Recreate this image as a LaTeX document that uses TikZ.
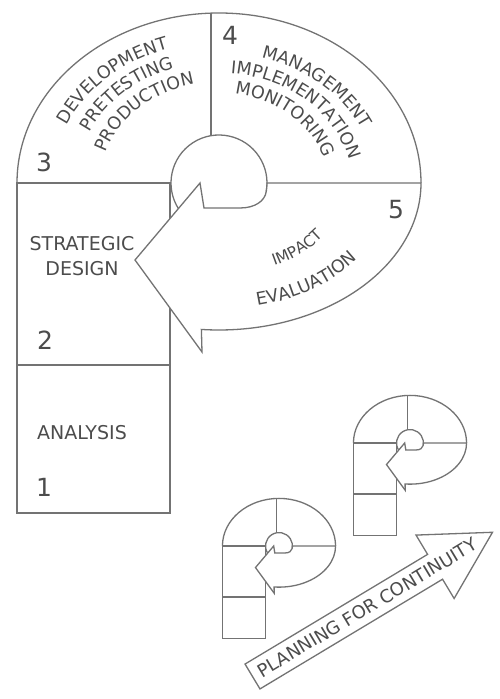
\documentclass[tikz,border=0pt]{standalone}
\usepackage{fontspec}
\setmainfont{DejaVu Sans}
\usetikzlibrary{decorations.text}

\definecolor{linegray}{gray}{0.45}
\definecolor{txtgray}{gray}{0.3}
\newcommand\arcfont{\fontsize{17.5}{20}\selectfont\color{txtgray}}
\newcommand\smallarcfont{\fontsize{15.5}{18}\selectfont\color{txtgray}}

\begin{document}
\begin{tikzpicture}[
  x=1pt, y=1pt,
  color=linegray,
  line width=1.3pt,
  num/.style={text=txtgray, font=\fontsize{25}{28}\selectfont},
  lbl/.style={text=txtgray, align=center, font=\fontsize{19}{25}\selectfont},
  arclbl/.style={decorate, decoration={text along path, text align=center, text={#1}}},
  pshape/.pic={
    % left column
    \draw (-202,0) rectangle (-49,-330);
    \draw (-202,-182) -- (-49,-182);
    % upper half
    \draw (-202,0) arc[start angle=180, end angle=0, x radius=202, y radius=170];
    \draw (-8,170) -- (-8,48);
    \draw (213:48) arc[start angle=213, end angle=-10, radius=48];
    % spiral arrow
    \draw[fill=white] (202,0) arc[start angle=0, end angle=-95, x radius=202, y radius=147]
      -- (-17,-169) -- (-84,-77) -- (-19,0) -- (-15,-25) -- (21,-25)
      .. controls (36,-25) and (46,-18) .. (-10:48)
      arc[start angle=-10, end angle=0, radius=48] -- cycle;
  }
]
\useasboundingbox (0,0) rectangle (500,699);

% big P
\pic (pbig) at (219,516) {pshape};

% small P's
\pic[scale=0.28] (psmalla) at (279,153) {pshape};
\pic[scale=0.28] (psmallb) at (410,256) {pshape};

% numbers
\node[num] (n1) at (44,212) {1};
\node[num] (n2) at (45,359) {2};
\node[num] (n3) at (44,537) {3};
\node[num] (n4) at (230,664) {4};
\node[num] (n5) at (396,489) {5};

% column labels
\node[lbl] (design) at (82,443) {STRATEGIC\\DESIGN};
\node[lbl] (analysis) at (82,266) {ANALYSIS};

% curved labels
\begin{scope}[shift={(219,516)}]
  \path[arclbl={|\arcfont|DEVELOPMENT}] (180:167 and 141) arc[start angle=180, end angle=87, x radius=167, y radius=141];
  \path[arclbl={|\arcfont|PRETESTING}] (180:143 and 121) arc[start angle=180, end angle=87, x radius=143, y radius=121];
  \path[arclbl={|\arcfont|PRODUCTION}] (180:119 and 101) arc[start angle=180, end angle=87, x radius=119, y radius=101];

  \path[arclbl={|\arcfont|MANAGEMENT}] (100:157 and 130) arc[start angle=100, end angle=-6, x radius=157, y radius=130];
  \path[arclbl={|\arcfont|IMPLEMENTATION}] (100:133 and 110) arc[start angle=100, end angle=-6, x radius=133, y radius=110];
  \path[arclbl={|\arcfont|MONITORING}] (100:109 and 90) arc[start angle=100, end angle=-6, x radius=109, y radius=90];

  \path[arclbl={|\smallarcfont|IMPACT}] (-95:128 and 92) arc[start angle=-95, end angle=5, x radius=128, y radius=92];
  \path[arclbl={|\arcfont|EVALUATION}] (-100:174 and 126) arc[start angle=-100, end angle=-8, x radius=174, y radius=126];
\end{scope}

% planning arrow
\begin{scope}[shift={(252.5,22.5)}, rotate=31]
  \draw[fill=white] (0,14.5) -- (213,14.5) -- (213,37) -- (280,0) -- (213,-37) -- (213,-14.5) -- (0,-14.5) -- cycle;
  \node[text=txtgray, rotate=31, font=\fontsize{18}{20}\selectfont] (plan) at (134,0) {PLANNING FOR CONTINUITY};
\end{scope}

\end{tikzpicture}
\end{document}
